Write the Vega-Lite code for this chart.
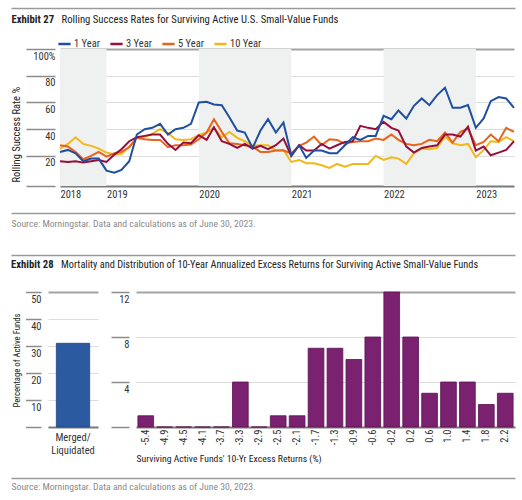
{
  "$schema": "https://vega.github.io/schema/vega-lite/v6.json",
  "padding": {"left": 8, "top": 5, "right": 10, "bottom": 0},
  "spacing": 0,
  "config": {
    "view": {"stroke": null},
    "font": "Liberation Sans Narrow, Roboto Condensed, DejaVu Sans Condensed, Liberation Sans, sans-serif",
    "axis": {"labelColor": "#333333", "titleColor": "#222222", "labelFontSize": 10.5, "titleFontSize": 10.5, "titleFontWeight": "normal"},
    "legend": {"labelColor": "#333333", "labelFontSize": 10.5},
    "title": {"fontSize": 10.7, "color": "#222222"}
  },
  "vconcat": [
    {
      "width": 467, "height": 39.8,
      "data": {"values": [{}]},
      "mark": {"type": "point", "opacity": 0},
      "encoding": {
        "x": {"datum": 0, "type": "quantitative", "scale": {"domain": [0, 1], "range": [-37, 467]},
          "axis": {"orient": "top", "domain": false, "ticks": false, "labels": false, "grid": false,
            "title": "Rolling Success Rates for Surviving Active U.S. Small-Value Funds",
            "titleX": 13, "titleY": 14, "titleAlign": "left", "titleBaseline": "alphabetic", "titleFontSize": 10.7, "titleFontWeight": "normal", "titleLimit": 1000}},
        "y": {"datum": 0, "type": "quantitative", "scale": {"domain": [0, 39.8], "reverse": true},
          "axis": {"values": [0], "domain": false, "ticks": false, "labels": false, "grid": true, "gridColor": "#9a9a9a", "gridWidth": 1.5,
            "title": "Exhibit 27", "titleAngle": 0, "titleX": -37, "titleY": 14, "titleAlign": "left", "titleBaseline": "alphabetic", "titleFontSize": 10.7, "titleFontWeight": "bold"}}
      }
    },
    {
      "width": 466, "height": 137,
      "layer": [
        {
          "data": {"values": [
            {"start": "2018-07-01", "end": "2019-01-01"},
            {"start": "2020-01-01", "end": "2021-01-01"},
            {"start": "2022-01-01", "end": "2023-01-01"}
          ]},
          "mark": {"type": "rect", "color": "#eff0f0"},
          "encoding": {
            "x": {"field": "start", "type": "temporal",
              "scale": {"type": "utc", "domain": [{"year": 2018, "month": 7, "date": 1, "utc": true}, {"year": 2023, "month": 6, "date": 1, "utc": true}], "range": [12, 466]},
              "axis": {"values": [
                  {"year": 2018, "month": 7, "date": 1, "utc": true},
                  {"year": 2019, "month": 1, "date": 1, "utc": true},
                  {"year": 2020, "month": 1, "date": 1, "utc": true},
                  {"year": 2021, "month": 1, "date": 1, "utc": true},
                  {"year": 2022, "month": 1, "date": 1, "utc": true},
                  {"year": 2023, "month": 1, "date": 1, "utc": true}],
                "labelExpr": "utcFormat(datum.value, '%Y')", "labelAlign": "left", "labelBaseline": "top", "labelPadding": 3,
                "ticks": false, "grid": false, "domainColor": "#7a7a7a", "domainWidth": 2, "title": null}},
            "x2": {"field": "end"}
          }
        },
        {
          "data": {"values": [
            {"date": "2018-07-01", "1 Year": 23, "3 Year": 16, "5 Year": 28, "10 Year": 25.5},
            {"date": "2018-08-01", "1 Year": 24.5, "3 Year": 15.5, "5 Year": 27, "10 Year": 29},
            {"date": "2018-09-01", "1 Year": 22, "3 Year": 16, "5 Year": 23, "10 Year": 34},
            {"date": "2018-10-01", "1 Year": 16, "3 Year": 15, "5 Year": 17.5, "10 Year": 29},
            {"date": "2018-11-01", "1 Year": 18, "3 Year": 16, "5 Year": 20, "10 Year": 27.5},
            {"date": "2018-12-01", "1 Year": 18, "3 Year": 17, "5 Year": 23, "10 Year": 25.5},
            {"date": "2019-01-01", "1 Year": 9, "3 Year": 15.5, "5 Year": 19.5, "10 Year": 22.5},
            {"date": "2019-02-01", "1 Year": 7.5, "3 Year": 21, "5 Year": 22, "10 Year": 21},
            {"date": "2019-03-01", "1 Year": 9.5, "3 Year": 25, "5 Year": 23, "10 Year": 21.5},
            {"date": "2019-04-01", "1 Year": 16, "3 Year": 31, "5 Year": 26.5, "10 Year": 27},
            {"date": "2019-05-01", "1 Year": 36, "3 Year": 34, "5 Year": 33.5, "10 Year": 33.5},
            {"date": "2019-06-01", "1 Year": 40, "3 Year": 35, "5 Year": 32.5, "10 Year": 34},
            {"date": "2019-07-01", "1 Year": 41, "3 Year": 36, "5 Year": 32, "10 Year": 36.5},
            {"date": "2019-08-01", "1 Year": 44, "3 Year": 36, "5 Year": 32, "10 Year": 40},
            {"date": "2019-09-01", "1 Year": 36, "3 Year": 29, "5 Year": 26.5, "10 Year": 37},
            {"date": "2019-10-01", "1 Year": 40, "3 Year": 24.5, "5 Year": 28, "10 Year": 32.5},
            {"date": "2019-11-01", "1 Year": 41, "3 Year": 30, "5 Year": 28, "10 Year": 32},
            {"date": "2019-12-01", "1 Year": 44, "3 Year": 29.5, "5 Year": 28.5, "10 Year": 32.5},
            {"date": "2020-01-01", "1 Year": 60, "3 Year": 35.5, "5 Year": 32.5, "10 Year": 35.5},
            {"date": "2020-02-01", "1 Year": 60.5, "3 Year": 32, "5 Year": 37.5, "10 Year": 37.5},
            {"date": "2020-03-01", "1 Year": 58.5, "3 Year": 41.5, "5 Year": 47.5, "10 Year": 41},
            {"date": "2020-04-01", "1 Year": 58, "3 Year": 31, "5 Year": 38, "10 Year": 34},
            {"date": "2020-05-01", "1 Year": 49, "3 Year": 29, "5 Year": 29.5, "10 Year": 38},
            {"date": "2020-06-01", "1 Year": 39, "3 Year": 26, "5 Year": 29, "10 Year": 33.5},
            {"date": "2020-07-01", "1 Year": 37.5, "3 Year": 29, "5 Year": 28, "10 Year": 31},
            {"date": "2020-08-01", "1 Year": 26, "3 Year": 25.5, "5 Year": 27, "10 Year": 27.5},
            {"date": "2020-09-01", "1 Year": 39, "3 Year": 27.5, "5 Year": 23, "10 Year": 28},
            {"date": "2020-10-01", "1 Year": 47.5, "3 Year": 25, "5 Year": 23, "10 Year": 28},
            {"date": "2020-11-01", "1 Year": 37.5, "3 Year": 28, "5 Year": 24, "10 Year": 24},
            {"date": "2020-12-01", "1 Year": 45, "3 Year": 33, "5 Year": 24, "10 Year": 24.5},
            {"date": "2021-01-01", "1 Year": 20.5, "3 Year": 20, "5 Year": 22, "10 Year": 15.5},
            {"date": "2021-02-01", "1 Year": 28, "3 Year": 28, "5 Year": 27.5, "10 Year": 17},
            {"date": "2021-03-01", "1 Year": 18.5, "3 Year": 24, "5 Year": 30, "10 Year": 14.5},
            {"date": "2021-04-01", "1 Year": 24, "3 Year": 24, "5 Year": 34.5, "10 Year": 14.5},
            {"date": "2021-05-01", "1 Year": 24, "3 Year": 29, "5 Year": 28, "10 Year": 13},
            {"date": "2021-06-01", "1 Year": 22, "3 Year": 25.5, "5 Year": 32.5, "10 Year": 11},
            {"date": "2021-07-01", "1 Year": 22, "3 Year": 28, "5 Year": 32, "10 Year": 14},
            {"date": "2021-08-01", "1 Year": 28, "3 Year": 30.5, "5 Year": 29, "10 Year": 12},
            {"date": "2021-09-01", "1 Year": 34, "3 Year": 31, "5 Year": 30.5, "10 Year": 14},
            {"date": "2021-10-01", "1 Year": 32, "3 Year": 42.5, "5 Year": 31, "10 Year": 14},
            {"date": "2021-11-01", "1 Year": 35, "3 Year": 41, "5 Year": 31, "10 Year": 14},
            {"date": "2021-12-01", "1 Year": 35, "3 Year": 40, "5 Year": 33, "10 Year": 20},
            {"date": "2022-01-01", "1 Year": 50, "3 Year": 45.5, "5 Year": 32, "10 Year": 17},
            {"date": "2022-02-01", "1 Year": 47.5, "3 Year": 41, "5 Year": 36, "10 Year": 19},
            {"date": "2022-03-01", "1 Year": 54, "3 Year": 39, "5 Year": 32, "10 Year": 18},
            {"date": "2022-04-01", "1 Year": 48, "3 Year": 27, "5 Year": 29, "10 Year": 14},
            {"date": "2022-05-01", "1 Year": 57.5, "3 Year": 22.5, "5 Year": 28, "10 Year": 22},
            {"date": "2022-06-01", "1 Year": 63, "3 Year": 26, "5 Year": 29, "10 Year": 25.5},
            {"date": "2022-07-01", "1 Year": 58, "3 Year": 27, "5 Year": 32, "10 Year": 25},
            {"date": "2022-08-01", "1 Year": 65.5, "3 Year": 28, "5 Year": 31, "10 Year": 26},
            {"date": "2022-09-01", "1 Year": 71, "3 Year": 36, "5 Year": 37.5, "10 Year": 34.5},
            {"date": "2022-10-01", "1 Year": 56, "3 Year": 36, "5 Year": 30, "10 Year": 29.5},
            {"date": "2022-11-01", "1 Year": 56, "3 Year": 34.5, "5 Year": 38, "10 Year": 28},
            {"date": "2022-12-01", "1 Year": 58, "3 Year": 42, "5 Year": 40.5, "10 Year": 29},
            {"date": "2023-01-01", "1 Year": 41, "3 Year": 24, "5 Year": 28, "10 Year": 19},
            {"date": "2023-02-01", "1 Year": 48, "3 Year": 27, "5 Year": 30.5, "10 Year": 24.5},
            {"date": "2023-03-01", "1 Year": 61, "3 Year": 20.5, "5 Year": 36, "10 Year": 31},
            {"date": "2023-04-01", "1 Year": 64, "3 Year": 22.5, "5 Year": 31, "10 Year": 30.5},
            {"date": "2023-05-01", "1 Year": 63, "3 Year": 24.5, "5 Year": 41, "10 Year": 34},
            {"date": "2023-06-01", "1 Year": 56, "3 Year": 31, "5 Year": 38, "10 Year": 31}
          ]},
          "transform": [{"fold": ["10 Year", "5 Year", "3 Year", "1 Year"], "as": ["series", "rate"]}],
          "mark": {"type": "line", "strokeWidth": 2},
          "encoding": {
            "x": {"field": "date", "type": "temporal"},
            "y": {"field": "rate", "type": "quantitative", "scale": {"domain": [-2.5, 100]},
              "axis": {"values": [-2.5, 20, 40, 60, 80, 100],
                "labelExpr": "datum.value == 100 ? '100%' : (datum.value < 0 ? '' : datum.label)",
                "offset": -7, "tickSize": 29, "tickColor": "#8c8c8c", "tickWidth": 1.5,
                "labelPadding": -29, "labelBaseline": "top", "labelOffset": 2, "labelAlign": "right",
                "domain": false, "grid": true,
                "gridColor": {"condition": {"test": "datum.value == 100", "value": "#a3a3a3"}, "value": "#dcdcdc"},
                "gridWidth": {"condition": {"test": "datum.value == 100", "value": 2}, "value": 1},
                "title": "Rolling Success Rate %", "titleX": -44, "titleY": 133, "titleAlign": "left", "titleBaseline": "top", "titleAngle": -90}},
            "color": {"field": "series", "type": "nominal",
              "scale": {"domain": ["1 Year", "3 Year", "5 Year", "10 Year"], "range": ["#1f4f9e", "#960f3c", "#e8631c", "#f2b81a"]},
              "legend": {"orient": "none", "legendX": 9, "legendY": 28.5, "direction": "horizontal", "title": null,
                "symbolType": "stroke", "symbolStrokeWidth": 2.5, "symbolSize": 150, "columnPadding": 5, "labelOffset": 2}}
          }
        }
      ]
    },
    {
      "width": 467, "height": 55.7,
      "data": {"values": [{}]},
      "mark": {"type": "point", "opacity": 0},
      "encoding": {
        "x": {"datum": 0, "type": "quantitative", "scale": {"domain": [0, 1], "range": [-37, 467]},
          "axis": {"orient": "top", "domain": false, "ticks": false, "labels": false, "grid": false,
            "title": "Source: Morningstar. Data and calculations as of June 30, 2023.",
            "titleX": -37, "titleY": 23, "titleAlign": "left", "titleBaseline": "alphabetic", "titleColor": "#8a8a8a", "titleFontSize": 9.7, "titleLimit": 1000}},
        "y": {"datum": 0, "type": "quantitative", "scale": {"domain": [0, 55.7], "reverse": true},
          "axis": {"values": [10, 51.5], "domain": false, "ticks": false, "labels": false, "grid": true, "gridColor": "#9a9a9a", "gridWidth": 1.5, "title": null}}
      }
    },
    {
      "hconcat": [
        {
          "width": 50, "height": 135,
          "title": {"text": "Exhibit 28", "anchor": "start", "frame": "group", "dx": -37, "fontWeight": "bold", "baseline": "alphabetic", "offset": 12.5},
          "data": {"values": [{"group": "Merged/Liquidated", "pct": 31}]},
          "mark": {"type": "bar", "color": "#2c5aa0", "stroke": "#1d4282", "strokeWidth": 0.8},
          "encoding": {
            "x": {"field": "group", "type": "nominal", "scale": {"paddingInner": 0.2, "paddingOuter": 0.2},
              "axis": {"labelExpr": "['Merged/', 'Liquidated']", "labelAngle": 0, "ticks": false, "labelPadding": 5, "labelLineHeight": 13,
                "domainColor": "#7a7a7a", "domainWidth": 2, "title": null}},
            "y": {"field": "pct", "type": "quantitative", "scale": {"domain": [0, 50]},
              "axis": {"values": [0, 10, 20, 30, 40, 50], "labelExpr": "datum.value == 0 ? '' : datum.label",
                "offset": 7, "tickSize": 15.5, "tickColor": "#8c8c8c", "tickWidth": 1.5,
                "labelPadding": -15.5, "labelBaseline": "top", "labelOffset": 2, "labelAlign": "right",
                "domain": false, "grid": true,
                "gridColor": {"condition": {"test": "datum.value == 50", "value": "#a3a3a3"}, "value": "#dcdcdc"},
                "gridWidth": {"condition": {"test": "datum.value == 50", "value": 2}, "value": 1},
                "title": "Percentage of Active Funds", "titleFontSize": 8.7, "titleX": -29, "titleY": 115, "titleAlign": "left", "titleBaseline": "top", "titleAngle": -90}}
          }
        },
        {
          "width": 379, "height": 135,
          "title": {"text": "Mortality and Distribution of 10-Year Annualized Excess Returns for Surviving Active Small-Value Funds", "anchor": "start", "frame": "group", "dx": -75, "fontWeight": "normal", "fontSize": 10.3, "baseline": "alphabetic", "offset": 12.5, "limit": 1000},
          "data": {"values": [
            {"bin": "-5.4", "count": 1}, {"bin": "-4.9", "count": 0}, {"bin": "-4.5", "count": 0}, {"bin": "-4.1", "count": 0},
            {"bin": "-3.7", "count": 0}, {"bin": "-3.3", "count": 4}, {"bin": "-2.9", "count": 0}, {"bin": "-2.5", "count": 1},
            {"bin": "-2.1", "count": 1}, {"bin": "-1.7", "count": 7}, {"bin": "-1.3", "count": 7}, {"bin": "-0.9", "count": 6},
            {"bin": "-0.6", "count": 8}, {"bin": "-0.2", "count": 12}, {"bin": "0.2", "count": 8}, {"bin": "0.6", "count": 3},
            {"bin": "1.0", "count": 4}, {"bin": "1.4", "count": 4}, {"bin": "1.8", "count": 2}, {"bin": "2.2", "count": 3}
          ]},
          "mark": {"type": "bar", "color": "#7a2170", "stroke": "#5a1252", "strokeWidth": 0.8},
          "encoding": {
            "x": {"field": "bin", "type": "ordinal", "sort": null, "scale": {"paddingInner": 0.17, "paddingOuter": 0.1},
              "axis": {"labelAngle": -90, "ticks": false, "labelPadding": 2, "domainColor": "#7a7a7a", "domainWidth": 2,
                "title": "Surviving Active Funds' 10-Yr Excess Returns (%)", "titleAnchor": "start", "titleAlign": "left", "titlePadding": 9, "titleFontSize": 9.7}},
            "y": {"field": "count", "type": "quantitative", "scale": {"domain": [0, 12]},
              "axis": {"values": [0, 4, 8, 12], "labelExpr": "datum.value == 0 ? '' : datum.label",
                "offset": 7, "tickSize": 18, "tickColor": "#8c8c8c", "tickWidth": 1.5,
                "labelPadding": -18, "labelBaseline": "top", "labelOffset": 2, "labelAlign": "right",
                "domain": false, "grid": true,
                "gridColor": {"condition": {"test": "datum.value == 12", "value": "#a3a3a3"}, "value": "#dcdcdc"},
                "gridWidth": {"condition": {"test": "datum.value == 12", "value": 2}, "value": 1},
                "title": null}}
          }
        }
      ],
      "bounds": "flush",
      "spacing": 38
    },
    {
      "width": 467, "height": 26,
      "data": {"values": [{}]},
      "mark": {"type": "point", "opacity": 0},
      "encoding": {
        "x": {"datum": 0, "type": "quantitative", "scale": {"domain": [0, 1], "range": [-37, 467]},
          "axis": {"orient": "top", "domain": false, "ticks": false, "labels": false, "grid": false,
            "title": "Source: Morningstar. Data and calculations as of June 30, 2023.",
            "titleX": -37, "titleY": 22, "titleAlign": "left", "titleBaseline": "alphabetic", "titleColor": "#8a8a8a", "titleFontSize": 9.7, "titleLimit": 1000}},
        "y": {"datum": 0, "type": "quantitative", "scale": {"domain": [0, 26], "reverse": true},
          "axis": {"values": [11], "domain": false, "ticks": false, "labels": false, "grid": true, "gridColor": "#9a9a9a", "gridWidth": 1.5, "title": null}}
      }
    }
  ]
}
